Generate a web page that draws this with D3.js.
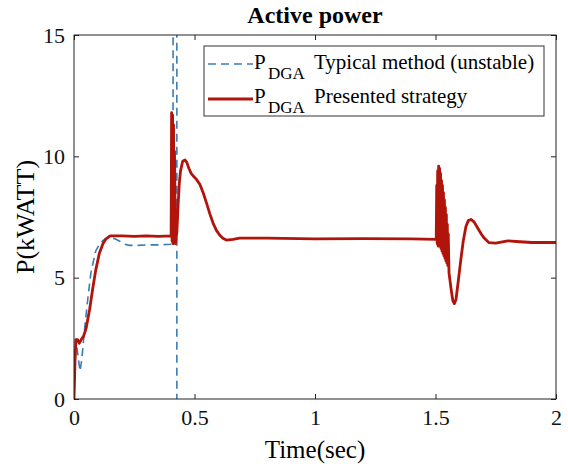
<!DOCTYPE html>
<html>
<head>
<meta charset="utf-8">
<script src="https://cdn.jsdelivr.net/npm/d3@7"></script>
<style>
  html, body { margin: 0; padding: 0; background: #fff; }
  svg { display: block; font-family: "Liberation Serif", "Times New Roman", serif; }
</style>
</head>
<body>
<svg id="chart" width="568" height="468"></svg>
<script>
// Time axis (s) and power (kW) samples for the two controllers
const typicalTime  = [0, 0.004, 0.008, 0.015, 0.025, 0.032, 0.045, 0.057, 0.07, 0.09, 0.11, 0.13, 0.15, 0.17, 0.19, 0.21, 0.23, 0.26, 0.3, 0.35, 0.4, 0.411, 0.4115, 0.4265, 0.427];
const typicalPower = [0, 1.5, 2.4, 1.9, 1.15, 1.6, 3.0, 4.1, 5.2, 6.1, 6.45, 6.6, 6.65, 6.6, 6.5, 6.38, 6.33, 6.33, 6.35, 6.35, 6.38, 6.4, 100, 100, -100];

const presentedTime = [
  0, 0.004, 0.008, 0.015, 0.022, 0.03, 0.04, 0.05, 0.065, 0.077, 0.09, 0.105, 0.12, 0.133, 0.15, 0.2, 0.25, 0.3, 0.35, 0.403,
  0.405, 0.407, 0.409, 0.411, 0.413, 0.415, 0.417, 0.421, 0.427, 0.432, 0.437, 0.442, 0.451, 0.46, 0.468, 0.477, 0.486, 0.494, 0.508, 0.522, 0.536, 0.55, 0.563, 0.577, 0.591, 0.605, 0.618, 0.632, 0.66, 0.687,
  0.8, 1.0, 1.2, 1.4, 1.503,
  1.505, 1.507, 1.509, 1.511, 1.513, 1.515, 1.517, 1.519, 1.521, 1.523, 1.525, 1.527, 1.529, 1.531, 1.533, 1.535, 1.537, 1.539, 1.541, 1.543, 1.545, 1.547, 1.549, 1.551, 1.553, 1.556,
  1.56, 1.565, 1.572, 1.578, 1.585, 1.595, 1.605, 1.615, 1.626, 1.636, 1.647, 1.66, 1.675, 1.69, 1.702, 1.722, 1.75, 1.8, 1.85, 1.9, 2.0
];
const presentedPower = [
  0, 1.5, 2.45, 2.45, 2.3, 2.45, 2.6, 2.9, 3.7, 4.5, 5.3, 6.0, 6.4, 6.6, 6.72, 6.72, 6.7, 6.72, 6.7, 6.72,
  11.8, 6.5, 11.7, 6.4, 11.3, 6.6, 10.2, 6.4, 6.9, 8.0, 8.9, 9.4, 9.8, 9.85, 9.75, 9.5, 9.3, 9.2, 9.05, 8.85, 8.5, 8.07, 7.65, 7.25, 6.95, 6.75, 6.62, 6.55, 6.58, 6.63,
  6.63, 6.6, 6.61, 6.6, 6.58,
  8.8, 6.4, 9.4, 6.3, 9.6, 6.4, 9.5, 6.3, 9.3, 6.2, 9.0, 6.1, 8.8, 6.0, 8.5, 5.9, 8.2, 5.8, 7.9, 5.7, 7.6, 5.6, 7.2, 5.5, 6.8, 5.2,
  4.9, 4.5, 4.05, 3.93, 4.1, 4.9, 5.73, 6.5, 7.1, 7.35, 7.4, 7.3, 7.05, 6.8, 6.63, 6.44, 6.42, 6.52, 6.48, 6.45, 6.45
];

const xTicks = [0, 0.5, 1, 1.5, 2];
const yTicks = [0, 5, 10, 15];
const xTickLabels = ["0", "0.5", "1", "1.5", "2"];
const legendLabels = ["Typical method (unstable)", "Presented strategy"];

const svg = d3.select("#chart");
const margin = { left: 74, right: 12, top: 35, bottom: 69 };
const W = 568, H = 468;
const x = d3.scaleLinear().domain([0, 2]).range([margin.left, W - margin.right]);
const y = d3.scaleLinear().domain([0, 15]).range([H - margin.bottom, margin.top]);

const blue = "#3b7db3";
const red = "#b1140a";

svg.append("defs").append("clipPath").attr("id", "plotClip")
  .append("rect")
  .attr("x", x(0)).attr("y", y(15))
  .attr("width", x(2) - x(0)).attr("height", y(0) - y(15));

// Axes with inward ticks on all four sides
const tickFont = "22px";
const bottomAxis = svg.append("g")
  .attr("transform", `translate(0,${y(0)})`)
  .call(d3.axisBottom(x).tickValues(xTicks).tickFormat((d, i) => xTickLabels[i]).tickSizeInner(-5).tickSizeOuter(0).tickPadding(10));
const topAxis = svg.append("g")
  .attr("transform", `translate(0,${y(15)})`)
  .call(d3.axisTop(x).tickValues(xTicks).tickFormat("").tickSizeInner(-5).tickSizeOuter(0));
const leftAxis = svg.append("g")
  .attr("transform", `translate(${x(0)},0)`)
  .call(d3.axisLeft(y).tickValues(yTicks).tickFormat(d3.format("d")).tickSizeInner(-5).tickSizeOuter(0).tickPadding(9));
const rightAxis = svg.append("g")
  .attr("transform", `translate(${x(2)},0)`)
  .call(d3.axisRight(y).tickValues(yTicks).tickFormat("").tickSizeInner(-5).tickSizeOuter(0));

[bottomAxis, topAxis, leftAxis, rightAxis].forEach(g => {
  g.select(".domain").remove();
  g.selectAll("line").attr("stroke", "#222").attr("stroke-width", 1);
  g.selectAll("text").attr("font-family", "Liberation Serif, serif").attr("font-size", tickFont).attr("fill", "#111");
});

// Curves
const line = d3.line().x(d => x(d[0])).y(d => y(d[1]));
const plot = svg.append("g").attr("clip-path", "url(#plotClip)");

plot.append("path")
  .datum(typicalTime.map((t, i) => [t, typicalPower[i]]))
  .attr("d", line)
  .attr("fill", "none")
  .attr("stroke", blue)
  .attr("stroke-width", 1.6)
  .attr("stroke-dasharray", "8,5");

plot.append("path")
  .datum(presentedTime.map((t, i) => [t, presentedPower[i]]))
  .attr("d", line)
  .attr("fill", "none")
  .attr("stroke", red)
  .attr("stroke-width", 2.8)
  .attr("stroke-linejoin", "round");

// Plot frame
svg.append("rect")
  .attr("x", x(0)).attr("y", y(15))
  .attr("width", x(2) - x(0)).attr("height", y(0) - y(15))
  .attr("fill", "none").attr("stroke", "#222").attr("stroke-width", 1);

// Title and axis labels
svg.append("text")
  .attr("x", (x(0) + x(2)) / 2).attr("y", 23)
  .attr("text-anchor", "middle")
  .attr("font-size", "24px").attr("font-weight", "bold")
  .text("Active power");

svg.append("text")
  .attr("x", (x(0) + x(2)) / 2).attr("y", 458)
  .attr("text-anchor", "middle")
  .attr("font-size", "25px")
  .text("Time(sec)");

svg.append("text")
  .attr("transform", `translate(34,${(y(0) + y(15)) / 2}) rotate(-90)`)
  .attr("text-anchor", "middle")
  .attr("font-size", "26px")
  .text("P(kWATT)");

// Legend
const legend = svg.append("g");
legend.append("rect")
  .attr("x", 204).attr("y", 46).attr("width", 340).attr("height", 70)
  .attr("fill", "#fff").attr("stroke", "#333").attr("stroke-width", 1);

const rows = [
  { yLine: 64, yText: 69, color: blue, width: 1.6, dash: "8,5", label: legendLabels[0] },
  { yLine: 99, yText: 103, color: red, width: 2.8, dash: null, label: legendLabels[1] }
];
rows.forEach(r => {
  legend.append("line")
    .attr("x1", 208).attr("x2", 253).attr("y1", r.yLine).attr("y2", r.yLine)
    .attr("stroke", r.color).attr("stroke-width", r.width)
    .attr("stroke-dasharray", r.dash);
  legend.append("text").attr("x", 254).attr("y", r.yText).attr("font-size", "21px").text("P");
  legend.append("text").attr("x", 268).attr("y", r.yText + 10).attr("font-size", "17px").text("DGA");
  legend.append("text").attr("x", 314).attr("y", r.yText).attr("font-size", "21px").text(r.label);
});
</script>
</body>
</html>
